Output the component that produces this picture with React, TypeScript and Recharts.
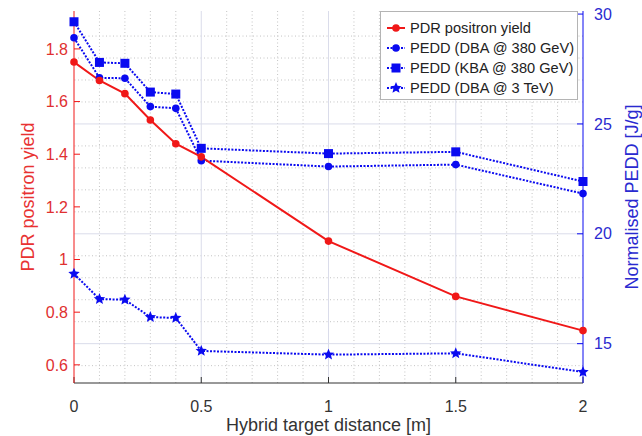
import React from 'react';
import { LineChart, Line, XAxis, YAxis, ReferenceLine, Legend } from 'recharts';

// hybrid target distance [m]
const distances = [0, 0.1, 0.2, 0.3, 0.4, 0.5, 1, 1.5, 2];
// PDR positron yield (left axis)
const pdrYield = [1.75, 1.68, 1.63, 1.53, 1.44, 1.39, 1.07, 0.86, 0.73];
// normalised PEDD [J/g] (right axis)
const peddDba380 = [28.92, 27.1, 27.08, 25.79, 25.71, 23.33, 23.06, 23.15, 21.83];
const peddKba380 = [29.65, 27.8, 27.76, 26.45, 26.36, 23.89, 23.65, 23.73, 22.38];
const peddDba3TeV = [18.18, 17.03, 17.0, 16.21, 16.17, 14.67, 14.5, 14.56, 13.71];

const xTicks = [0, 0.5, 1, 1.5, 2];
const leftTicks = [0.6, 0.8, 1, 1.2, 1.4, 1.6, 1.8];
const rightTicks = [15, 20, 25, 30];
const xMinorGrid = [0.1, 0.2, 0.3, 0.4, 0.6, 0.7, 0.8, 0.9, 1.1, 1.2, 1.3, 1.4, 1.6, 1.7, 1.8, 1.9];
const xMajorGrid = [0.5, 1, 1.5];
const yMinorGrid = [14, 16, 17, 18, 19, 21, 22, 23, 24, 26, 27, 28, 29];
const yMajorGrid = [15, 20, 25];

const data = distances.map((d, i) => ({
  d,
  pdr: pdrYield[i],
  dba380: peddDba380[i],
  kba380: peddKba380[i],
  dba3: peddDba3TeV[i],
}));

const RED = '#f01818';
const BLUE = '#0a0af0';
const FONT = '"Liberation Sans", Arial, sans-serif';

const starPoints = (cx: number, cy: number, R: number) => {
  const r = R * 0.45;
  const pts: string[] = [];
  for (let k = 0; k < 10; k++) {
    const a = -Math.PI / 2 + (k * Math.PI) / 5;
    const rad = k % 2 === 0 ? R : r;
    pts.push(`${cx + rad * Math.cos(a)},${cy + rad * Math.sin(a)}`);
  }
  return pts.join(' ');
};

const Marker = ({ kind, cx, cy, color }: { kind: string; cx: number; cy: number; color: string }) => {
  if (kind === 'square') return <rect x={cx - 4.5} y={cy - 4.5} width={9} height={9} fill={color} />;
  if (kind === 'star') return <polygon points={starPoints(cx, cy, 6)} fill={color} />;
  return <circle cx={cx} cy={cy} r={3.8} fill={color} />;
};

const dotOf = (kind: string, color: string) => (p: any) => (
  <Marker key={`${kind}-${p.index}`} kind={kind} cx={p.cx} cy={p.cy} color={color} />
);

const legendItems = [
  { name: 'PDR positron yield', kind: 'circle', color: RED, dashed: false },
  { name: 'PEDD (DBA @ 380 GeV)', kind: 'circle', color: BLUE, dashed: true },
  { name: 'PEDD (KBA @ 380 GeV)', kind: 'square', color: BLUE, dashed: true },
  { name: 'PEDD (DBA @ 3 TeV)', kind: 'star', color: BLUE, dashed: true },
];

const LegendBox = () => (
  <div
    style={{
      width: 198,
      height: 89,
      boxSizing: 'border-box',
      border: '1px solid #b4b4b4',
      background: '#fff',
      paddingTop: 6,
      paddingLeft: 3,
      fontFamily: FONT,
      fontSize: 14.6,
      color: '#222',
    }}
  >
    {legendItems.map((it) => (
      <div key={it.name} style={{ display: 'flex', alignItems: 'center', height: 20 }}>
        <svg width={24} height={14} style={{ flex: 'none' }}>
          <line
            x1={3}
            y1={7}
            x2={21}
            y2={7}
            stroke={it.color}
            strokeWidth={2}
            strokeDasharray={it.dashed ? '2 1.5' : undefined}
          />
          <Marker kind={it.kind} cx={12} cy={7} color={it.color} />
        </svg>
        <span style={{ marginLeft: 2, whiteSpace: 'nowrap' }}>{it.name}</span>
      </div>
    ))}
  </div>
);

const sideTitle = (text: string, color: string, x: number) => (props: any) => {
  const vb = props.viewBox || { y: 11, height: 372 };
  const y = vb.y + vb.height / 2;
  return (
    <text
      x={x}
      y={y}
      transform={`rotate(-90 ${x} ${y})`}
      textAnchor="middle"
      dominantBaseline="central"
      fill={color}
      fontSize={18}
      fontFamily={FONT}
    >
      {text}
    </text>
  );
};

export default function App() {
  return (
    <div style={{ position: 'absolute', left: 0, top: 0, background: '#fff', fontFamily: FONT }}>
      <LineChart width={642} height={436} data={data} margin={{ top: 11, right: 10, bottom: 0, left: 10 }}>
        {xMinorGrid.map((v) => (
          <ReferenceLine key={`xm${v}`} x={v} yAxisId="right" stroke="#c4c4c4" strokeDasharray="1 2.5" />
        ))}
        {yMinorGrid.map((v) => (
          <ReferenceLine key={`ym${v}`} y={v} yAxisId="right" stroke="#c4c4c4" strokeDasharray="1 2.5" />
        ))}
        {xMajorGrid.map((v) => (
          <ReferenceLine key={`xM${v}`} x={v} yAxisId="right" stroke="#dadcea" />
        ))}
        {yMajorGrid.map((v) => (
          <ReferenceLine key={`yM${v}`} y={v} yAxisId="right" stroke="#dadcea" />
        ))}
        <XAxis
          dataKey="d"
          type="number"
          domain={[0, 2]}
          ticks={xTicks}
          stroke="#333"
          tickSize={-6}
          tickMargin={24}
          height={53}
          tick={{ fill: '#333', fontSize: 16, fontFamily: FONT }}
          label={{
            value: 'Hybrid target distance [m]',
            position: 'insideBottom',
            offset: 5,
            fill: '#333',
            fontSize: 18,
            fontFamily: FONT,
          }}
        />
        <XAxis
          xAxisId="top"
          dataKey="d"
          type="number"
          orientation="top"
          domain={[0, 2]}
          ticks={[0.5, 1, 1.5]}
          height={0}
          stroke="#444"
          tickSize={-6}
          tickFormatter={() => ''}
        />
        <YAxis
          yAxisId="left"
          domain={[0.531, 1.944]}
          ticks={leftTicks}
          width={64}
          stroke={RED}
          tickSize={-6}
          tickMargin={12}
          tick={{ fill: '#e03030', fontSize: 16, fontFamily: FONT }}
          label={{ content: sideTitle('PDR positron yield', '#e83232', 28) }}
        />
        <YAxis
          yAxisId="right"
          orientation="right"
          domain={[13.21, 30.14]}
          ticks={rightTicks}
          width={49}
          stroke={BLUE}
          tickSize={-6}
          tickMargin={17}
          tick={{ fill: '#2a2ad0', fontSize: 16, fontFamily: FONT }}
          label={{ content: sideTitle('Normalised PEDD [J/g]', '#2a2ad0', 632) }}
        />
        <Legend
          layout="vertical"
          align="center"
          verticalAlign="middle"
          content={() => <LegendBox />}
          wrapperStyle={{ left: 380, top: 11, width: 198, height: 89 }}
        />
        <Line
          yAxisId="right"
          dataKey="dba3"
          stroke={BLUE}
          strokeWidth={2}
          strokeDasharray="2 1.5"
          dot={dotOf('star', BLUE)}
          isAnimationActive={false}
        />
        <Line
          yAxisId="right"
          dataKey="dba380"
          stroke={BLUE}
          strokeWidth={2}
          strokeDasharray="2 1.5"
          dot={dotOf('circle', BLUE)}
          isAnimationActive={false}
        />
        <Line
          yAxisId="right"
          dataKey="kba380"
          stroke={BLUE}
          strokeWidth={2}
          strokeDasharray="2 1.5"
          dot={dotOf('square', BLUE)}
          isAnimationActive={false}
        />
        <Line
          yAxisId="left"
          dataKey="pdr"
          stroke={RED}
          strokeWidth={2}
          dot={dotOf('circle', RED)}
          isAnimationActive={false}
        />
      </LineChart>
    </div>
  );
}
